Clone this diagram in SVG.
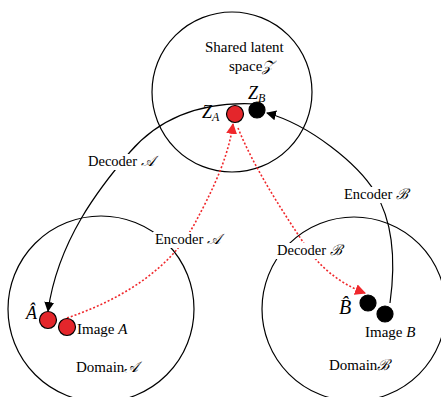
<svg xmlns="http://www.w3.org/2000/svg" width="441" height="397" viewBox="0 0 441 397">
<defs>
<style>
text{font-family:"Liberation Serif","DejaVu Serif",serif;fill:#000}
.t{font-size:14.5px}
.m{font-size:15px}
.it{font-style:italic}
.big{fill:none;stroke:#000;stroke-width:1.2}
.red{fill:#e4262b;stroke:#000;stroke-width:1.2}
.blk{fill:#000;stroke:#000;stroke-width:1.2}
.sol{fill:none;stroke:#000;stroke-width:1.2}
.dot{fill:none;stroke:#f0282c;stroke-width:1.6;stroke-dasharray:2 2}
.bg{fill:#fff}
</style>
<marker id="ab" viewBox="0 0 10 10" refX="9" refY="5" markerWidth="10" markerHeight="10" markerUnits="userSpaceOnUse" orient="auto"><path d="M0,0 L10,5 L0,10 z" fill="#000"/></marker>
<marker id="ar" viewBox="0 0 10 10" refX="9" refY="5" markerWidth="11" markerHeight="11" markerUnits="userSpaceOnUse" orient="auto"><path d="M0,0 L10,5 L0,10 z" fill="#f0282c"/></marker>
</defs>
<rect width="441" height="397" fill="#fff"/>

<g id="latent-space">
<circle class="big" cx="232" cy="92" r="80"/>
<text class="m" x="205" y="52">Shared latent</text>
<text class="m" x="229" y="71">space<tspan class="it">𝒵</tspan></text>
</g>
<g id="domain-A">
<circle class="big" cx="101" cy="309" r="93"/>
<text class="m" x="76" y="372">Domain<tspan class="it">𝒜</tspan></text>
</g>
<g id="domain-B">
<circle class="big" cx="354" cy="309" r="92"/>
<text class="m" x="329" y="370">Domain<tspan class="it">ℬ</tspan></text>
</g>

<g id="connectors">
<path class="sol" d="M256 104 Q175 100 130 152 C100 187 58 240 48 311" marker-end="url(#ab)"/>
<path class="sol" d="M390 303 C396 260 392 220 375 192 C358 164 310 125 267 113" marker-end="url(#ab)"/>
<path class="dot" d="M67 318 C120 300 170 270 195 223 C210 195 228 160 233 124" marker-end="url(#ar)"/>
<path class="dot" d="M238 128 C255 170 285 215 305 245 C318 265 338 283 365 293" marker-end="url(#ar)"/>
<rect class="bg" x="86" y="154" width="70" height="16"/>
<text class="t" x="88" y="166">Decoder <tspan class="it">𝒜</tspan></text>
<rect class="bg" x="153" y="232" width="72" height="16"/>
<text class="t" x="155" y="244">Encoder <tspan class="it">𝒜</tspan></text>
<rect class="bg" x="342" y="187" width="70" height="16"/>
<text class="t" x="344" y="199">Encoder <tspan class="it">ℬ</tspan></text>
<rect class="bg" x="275" y="243" width="70" height="16"/>
<text class="t" x="277" y="255">Decoder <tspan class="it">ℬ</tspan></text>
</g>

<g id="ZA">
<circle class="red" cx="235" cy="114" r="8.5"/>
<text class="it" x="202" y="118" style="font-size:18px">Z<tspan dy="3" style="font-size:12px">A</tspan></text>
</g>
<g id="ZB">
<circle class="blk" cx="257" cy="110" r="8"/>
<text class="it" x="248" y="99" style="font-size:18px">Z<tspan dy="3" style="font-size:12px">B</tspan></text>
</g>
<g id="A-hat">
<circle class="red" cx="48" cy="320" r="8.5"/>
<text class="it" x="26" y="319" style="font-size:18px">Â</text>
</g>
<g id="image-A">
<circle class="red" cx="67" cy="327" r="8.5"/>
<text class="m" x="77" y="334">Image <tspan class="it">A</tspan></text>
</g>
<g id="B-hat">
<circle class="blk" cx="368" cy="303" r="8"/>
<text class="it" x="339" y="314" style="font-size:20px">B̂</text>
</g>
<g id="image-B">
<circle class="blk" cx="385" cy="314" r="8"/>
<text class="m" x="365" y="337">Image <tspan class="it">B</tspan></text>
</g>
</svg>
